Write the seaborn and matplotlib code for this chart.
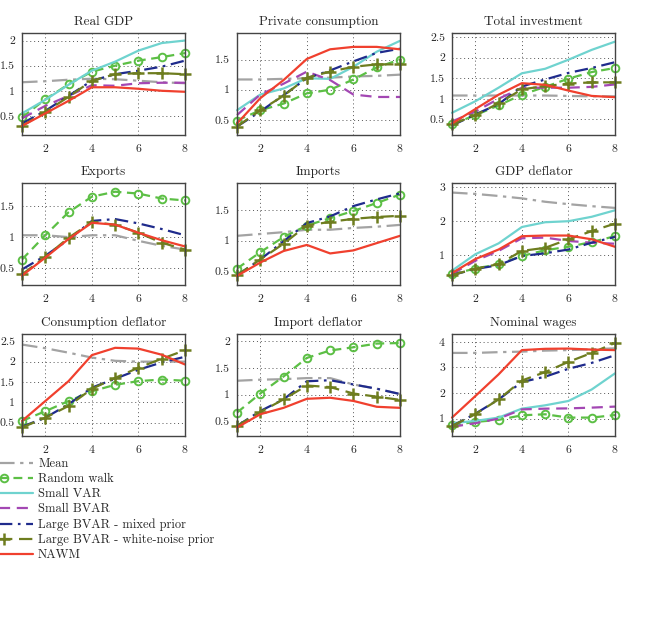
import numpy as np
import pandas as pd
import matplotlib
matplotlib.use('Agg')
import matplotlib.pyplot as plt
import seaborn as sns

# horizons and panel info
horizons = [1, 2, 3, 4, 5, 6, 7, 8]
panel_titles = ['Real GDP', 'Private consumption', 'Total investment',
                'Exports', 'Imports', 'GDP deflator',
                'Consumption deflator', 'Import deflator', 'Nominal wages']
model_names = ['Mean', 'Random walk', 'Small VAR', 'Small BVAR',
               'Large BVAR - mixed prior', 'Large BVAR - white-noise prior', 'NAWM']

# values per panel, one list per model (missing = model not shown)
real_gdp = {
    'Mean': [1.17, 1.19, 1.22, 1.24, 1.23, 1.20, 1.17, 1.15],
    'Random walk': [0.47, 0.83, 1.13, 1.38, 1.50, 1.60, 1.67, 1.75],
    'Small VAR': [0.55, 0.82, 1.12, 1.40, 1.58, 1.80, 1.95, 2.00],
    'Small BVAR': [0.45, 0.70, 0.90, 1.11, 1.10, 1.15, 1.16, 1.16],
    'Large BVAR - mixed prior': [0.35, 0.60, 0.90, 1.20, 1.33, 1.40, 1.48, 1.60],
    'Large BVAR - white-noise prior': [0.30, 0.58, 0.88, 1.20, 1.33, 1.35, 1.35, 1.33],
    'NAWM': [0.30, 0.55, 0.80, 1.07, 1.07, 1.04, 1.00, 0.98],
}
private_consumption = {
    'Mean': [1.17, 1.17, 1.18, 1.19, 1.20, 1.22, 1.23, 1.25],
    'Random walk': [0.49, 0.66, 0.77, 0.94, 1.00, 1.17, 1.37, 1.50],
    'Small VAR': [0.66, 0.92, 1.02, 1.19, 1.18, 1.38, 1.63, 1.81],
    'Small BVAR': [0.58, 0.92, 1.10, 1.30, 1.16, 0.92, 0.88, 0.88],
    'Large BVAR - mixed prior': [0.39, 0.64, 0.91, 1.19, 1.32, 1.47, 1.61, 1.68],
    'Large BVAR - white-noise prior': [0.39, 0.66, 0.90, 1.20, 1.30, 1.38, 1.42, 1.42],
    'NAWM': [0.44, 0.86, 1.16, 1.51, 1.67, 1.71, 1.71, 1.67],
}
total_investment = {
    'Mean': [1.08, 1.08, 1.08, 1.08, 1.08, 1.07, 1.06, 1.06],
    'Random walk': [0.38, 0.60, 0.84, 1.10, 1.29, 1.49, 1.65, 1.75],
    'Small VAR': [0.66, 0.94, 1.27, 1.62, 1.73, 1.95, 2.19, 2.39],
    'Small BVAR': [0.45, 0.69, 1.00, 1.27, 1.27, 1.27, 1.29, 1.35],
    'Large BVAR - mixed prior': [0.35, 0.62, 0.87, 1.30, 1.47, 1.63, 1.75, 1.89],
    'Large BVAR - white-noise prior': [0.38, 0.60, 0.89, 1.23, 1.31, 1.37, 1.40, 1.40],
    'NAWM': [0.40, 0.75, 1.10, 1.38, 1.34, 1.20, 1.07, 1.04],
}
exports = {
    'Mean': [1.03, 1.03, 1.00, 1.03, 1.03, 0.94, 0.86, 0.80],
    'Random walk': [0.64, 1.03, 1.40, 1.65, 1.73, 1.70, 1.62, 1.59],
    'Large BVAR - mixed prior': [0.48, 0.70, 0.96, 1.26, 1.29, 1.22, 1.13, 1.03],
    'Large BVAR - white-noise prior': [0.40, 0.68, 0.99, 1.24, 1.20, 1.07, 0.91, 0.80],
    'NAWM': [0.38, 0.67, 0.97, 1.23, 1.20, 1.07, 0.95, 0.85],
}
imports = {
    'Mean': [1.08, 1.11, 1.14, 1.18, 1.18, 1.21, 1.23, 1.26],
    'Random walk': [0.54, 0.81, 1.06, 1.25, 1.37, 1.49, 1.62, 1.76],
    'Large BVAR - mixed prior': [0.43, 0.69, 0.99, 1.29, 1.40, 1.57, 1.68, 1.78],
    'Large BVAR - white-noise prior': [0.43, 0.69, 0.95, 1.25, 1.31, 1.36, 1.39, 1.41],
    'NAWM': [0.42, 0.64, 0.83, 0.93, 0.79, 0.84, 0.96, 1.08],
}
gdp_deflator = {
    'Mean': [2.84, 2.80, 2.74, 2.67, 2.57, 2.50, 2.44, 2.39],
    'Random walk': [0.45, 0.61, 0.74, 0.98, 1.15, 1.25, 1.39, 1.56],
    'Small VAR': [0.55, 1.03, 1.35, 1.83, 1.97, 2.00, 2.13, 2.32],
    'Small BVAR': [0.45, 0.84, 1.13, 1.50, 1.52, 1.42, 1.37, 1.34],
    'Large BVAR - mixed prior': [0.42, 0.60, 0.71, 0.98, 1.06, 1.17, 1.37, 1.54],
    'Large BVAR - white-noise prior': [0.42, 0.61, 0.74, 1.13, 1.22, 1.47, 1.71, 1.93],
    'NAWM': [0.48, 0.89, 1.17, 1.56, 1.58, 1.58, 1.47, 1.25],
}
consumption_deflator = {
    'Mean': [2.42, 2.33, 2.22, 2.10, 2.02, 2.00, 2.00, 2.00],
    'Random walk': [0.54, 0.78, 1.03, 1.27, 1.43, 1.52, 1.56, 1.53],
    'Large BVAR - mixed prior': [0.40, 0.62, 0.95, 1.36, 1.58, 1.80, 1.98, 2.12],
    'Large BVAR - white-noise prior': [0.38, 0.62, 0.91, 1.33, 1.60, 1.85, 2.07, 2.28],
    'NAWM': [0.54, 1.03, 1.52, 2.16, 2.34, 2.32, 2.17, 1.93],
}
import_deflator = {
    'Mean': [1.26, 1.28, 1.29, 1.31, 1.31, 1.19, 1.11, 1.01],
    'Random walk': [0.66, 1.02, 1.34, 1.69, 1.83, 1.89, 1.96, 1.97],
    'Large BVAR - mixed prior': [0.41, 0.69, 0.91, 1.25, 1.27, 1.19, 1.11, 1.01],
    'Large BVAR - white-noise prior': [0.41, 0.67, 0.91, 1.17, 1.14, 1.02, 0.96, 0.90],
    'NAWM': [0.38, 0.63, 0.75, 0.92, 0.94, 0.88, 0.77, 0.75],
}
nominal_wages = {
    'Mean': [3.57, 3.57, 3.60, 3.62, 3.66, 3.68, 3.71, 3.75],
    'Random walk': [0.74, 0.87, 0.95, 1.13, 1.17, 1.04, 1.04, 1.14],
    'Small VAR': [0.82, 0.91, 1.04, 1.39, 1.52, 1.69, 2.14, 2.77],
    'Small BVAR': [0.68, 0.82, 1.00, 1.36, 1.39, 1.40, 1.43, 1.47],
    'Large BVAR - mixed prior': [0.71, 1.19, 1.75, 2.43, 2.64, 2.95, 3.18, 3.48],
    'Large BVAR - white-noise prior': [0.71, 1.17, 1.75, 2.49, 2.82, 3.22, 3.57, 3.96],
    'NAWM': [1.04, 1.88, 2.73, 3.68, 3.73, 3.74, 3.70, 3.68],
}
panel_data = [real_gdp, private_consumption, total_investment, exports, imports,
              gdp_deflator, consumption_deflator, import_deflator, nominal_wages]

ylims = [(0.12, 2.15), (0.25, 1.94), (0.12, 2.6),
         (0.23, 1.87), (0.27, 1.95), (0.13, 3.12),
         (0.17, 2.68), (0.22, 2.14), (0.32, 4.31)]
yticks = [[0.5, 1, 1.5, 2], [0.5, 1, 1.5], [0.5, 1, 1.5, 2, 2.5],
          [0.5, 1, 1.5], [0.5, 1, 1.5], [1, 2, 3],
          [0.5, 1, 1.5, 2, 2.5], [0.5, 1, 1.5, 2], [1, 2, 3, 4]]

# long-form table
rows = []
for title, d in zip(panel_titles, panel_data):
    for m, vals in d.items():
        for h, v in zip(horizons, vals):
            rows.append({'panel': title, 'model': m, 'horizon': h, 'rmse': v})
df = pd.DataFrame(rows)

styles = {
    'Mean': dict(color='#a3a3a3', linestyle=(0, (7, 2.5, 1.5, 2.5)), lw=1.6),
    'Random walk': dict(color='#5cbf45', linestyle=(0, (4, 2.5)), lw=1.6,
                        marker='o', markersize=5.5, markerfacecolor='none',
                        markeredgecolor='#5cbf45', markeredgewidth=1.4),
    'Small VAR': dict(color='#6fd3cf', linestyle='-', lw=1.6),
    'Small BVAR': dict(color='#a347b3', linestyle=(0, (5, 3)), lw=1.6),
    'Large BVAR - mixed prior': dict(color='#1f2b8c', linestyle=(0, (6, 2.5, 1.2, 2.5)), lw=1.6),
    'Large BVAR - white-noise prior': dict(color='#6e7d1f', linestyle=(0, (6, 3)), lw=1.6,
                                           marker='+', markersize=8.5,
                                           markeredgecolor='#6e7d1f', markeredgewidth=1.8),
    'NAWM': dict(color='#f0402e', linestyle='-', lw=1.6),
}

sns.set_theme(style='white')
plt.rcParams['font.family'] = ['cmr10', 'DejaVu Serif']
plt.rcParams['axes.formatter.use_mathtext'] = True
plt.rcParams['mathtext.fontset'] = 'cm'

W, H = 666, 619
fig = plt.figure(figsize=(W / 100, H / 100), dpi=100)

col_left = [22, 237, 452]
col_w = 163
row_top = [33, 183, 334]
row_h = 102

handles = {}
for i, title in enumerate(panel_titles):
    r, c = divmod(i, 3)
    ax = fig.add_axes([col_left[c] / W, 1 - (row_top[r] + row_h) / H, col_w / W, row_h / H])
    sub = df[df['panel'] == title]
    for m in model_names:
        s = sub[sub['model'] == m]
        if s.empty:
            continue
        sns.lineplot(data=s, x='horizon', y='rmse', ax=ax, legend=False,
                     clip_on=False, **styles[m])
        handles.setdefault(m, ax.get_lines()[-1])
    ax.set_xlim(1, 8)
    ax.set_ylim(*ylims[i])
    ax.set_xticks([2, 4, 6, 8])
    ax.set_yticks(yticks[i])
    ax.set_yticklabels([f'{t:g}' for t in yticks[i]])
    ax.set_xlabel('')
    ax.set_ylabel('')
    ax.set_title(title, fontsize=9.5, pad=6)
    ax.grid(True, linestyle=(0, (1, 3)), color='#555555', lw=0.7)
    ax.tick_params(labelsize=8.5, length=3, direction='in', color='#444444', pad=5)
    for sp in ax.spines.values():
        sp.set_color('#444444')
        sp.set_linewidth(1.0)

fig.legend([handles[m] for m in model_names], model_names, loc='upper left',
           bbox_to_anchor=(-0.045, 1 - 453 / H), frameon=False, fontsize=9,
           handlelength=4.6, labelspacing=0.24, handletextpad=0.45,
           borderaxespad=0, numpoints=1)

fig.savefig('out.png', dpi=100)
